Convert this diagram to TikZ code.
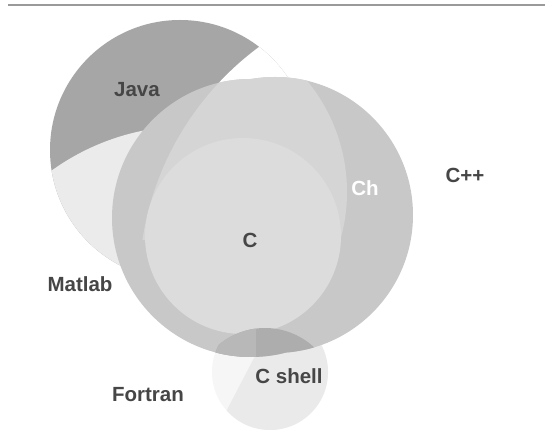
\documentclass[tikz,border=0pt]{standalone}
\usepackage{fontspec}
\setmainfont{Liberation Sans}
\definecolor{javagray}{HTML}{A6A6A6}
\definecolor{matlablight}{HTML}{EBEBEB}
\definecolor{blobgray}{HTML}{C8C8C8}
\definecolor{toplight}{HTML}{D5D5D5}
\definecolor{clight}{HTML}{DCDCDC}
\definecolor{darkov}{HTML}{ADADAD}
\definecolor{darkovlight}{HTML}{B8B8B8}
\definecolor{shelllight}{HTML}{EAEAEA}
\definecolor{faintgray}{HTML}{F6F6F6}
\definecolor{labelgray}{HTML}{464646}
\definecolor{rulegray}{HTML}{9A9A9A}
\begin{document}
\begin{tikzpicture}[x=1pt,y=-1pt,
  lbl/.style={font=\bfseries\fontsize{20.5}{24}\selectfont, text=labelgray, inner sep=0pt},
]
% canvas
\fill[white] (0,0) rectangle (550,446);
\useasboundingbox (0,0) rectangle (550,446);

% circle centres
\coordinate (cJ) at (180,150);   % Java
\coordinate (cM) at (190,363);   % Matlab
\coordinate (cW) at (435,285);   % C++
\coordinate (cY) at (251,218);   % left lobe of the Ch disc
\coordinate (cH) at (275,215);   % Ch
\coordinate (cR) at (172,192);   % inner light lobe
\coordinate (cC) at (243,236);   % C
\coordinate (cS) at (270,372);   % C shell
\coordinate (cD) at (265,400);   % C shell / Ch overlap

% top rule
\coordinate (ruleL) at (8,5);
\coordinate (ruleR) at (545,5);
\draw[rulegray, line width=1.1pt] (ruleL) -- (ruleR);

% Java disc
\fill[javagray] (cJ) circle[radius=130pt];
% Matlab lightens the lower part of Java
\begin{scope}
  \clip (cJ) circle[radius=130pt];
  \fill[matlablight] (cM) circle[radius=237pt];
  % C++ cuts Java into a crescent
  \fill[white] (cW) circle[radius=296pt];
\end{scope}

% C shell disc, with the fainter Fortran wedge on its left
\fill[faintgray] (cS) circle[radius=58pt];
\begin{scope}
  \clip (265,337) -- (218,427) -- (345,440) -- (345,300) -- cycle;
  \fill[shelllight] (cS) circle[radius=58pt];
\end{scope}

% Ch disc (two overlapping lobes)
\fill[blobgray] (cY) circle[radius=139pt] (cH) circle[radius=138pt];

% light upper region where C++ overlaps Ch
\begin{scope}
  \clip (cY) circle[radius=139pt] (cH) circle[radius=138pt];
  \clip (cW) circle[radius=296pt];
  \clip (cR) circle[radius=175pt];
  \clip (0,0) rectangle (550,240);
  \fill[toplight] (0,0) rectangle (550,240);
\end{scope}

% C disc
\fill[clight] (cC) circle[radius=98pt];

% C shell overlapping Ch
\begin{scope}
  \clip (cY) circle[radius=139pt] (cH) circle[radius=138pt];
  \clip (cS) circle[radius=58pt];
  \clip (cD) circle[radius=72pt];
  \fill[darkov] (150,300) rectangle (350,380);
  \fill[darkovlight] (150,300) rectangle (256,380);
\end{scope}

% labels
\node[lbl] (java) at (137,90) {Java};
\node[lbl] (c) at (250,240) {C};
\node[lbl, text=white] (ch) at (365,188.5) {Ch};
\node[lbl] (cpp) at (465,175) {C++};
\node[lbl] (matlab) at (80,284.5) {Matlab};
\node[lbl] (fortran) at (148,395) {Fortran};
\node[lbl] (cshell) at (289,376) {C shell};
\end{tikzpicture}
\end{document}
